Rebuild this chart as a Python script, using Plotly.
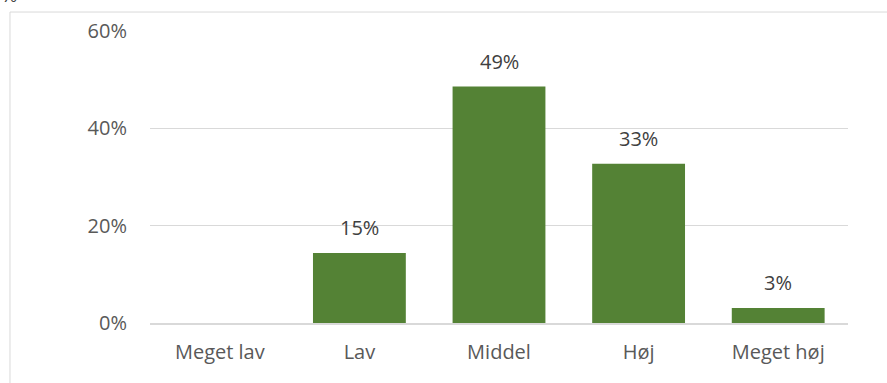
import plotly.graph_objects as go

categories = ["Meget lav", "Lav", "Middel", "Høj", "Meget høj"]
values = [0.0, 0.144, 0.486, 0.327, 0.031]
labels = ["", "15%", "49%", "33%", "3%"]
tick_vals = [0, 0.2, 0.4, 0.6]
tick_text = ["0%", "20%", "40%", "60%"]

FONT = "Open Sans"
GREEN = "#548235"
FS = 20

fig = go.Figure()
fig.add_trace(go.Bar(
    x=categories, y=values,
    marker=dict(color=GREEN, line=dict(width=0)),
    hoverinfo="skip",
))

for c, v, t in zip(categories, values, labels):
    if t:
        fig.add_annotation(x=c, y=v, text=t, showarrow=False, yanchor="middle",
                           yshift=25, font=dict(family=FONT, size=FS, color="#404040"))

# clipped axis title fragment at top-left
fig.add_annotation(xref="paper", yref="paper", x=-0.216, y=1.072, text="%",
                   showarrow=False, xanchor="left", yanchor="bottom",
                   font=dict(family=FONT, size=FS, color="#404040"))

# chart frame (extends beyond the visible image on right/bottom)
fig.add_shape(type="rect", xref="paper", yref="paper",
              x0=-0.2006, y0=-0.6, x1=1.3, y1=1.065,
              line=dict(color="#d9d9d9", width=1), layer="below")

fig.update_layout(
    width=887, height=383,
    margin=dict(l=150, r=39, t=31, b=60),
    paper_bgcolor="white", plot_bgcolor="white",
    bargap=0.335, showlegend=False,
    font=dict(family=FONT, size=FS, color="#595959"),
    xaxis=dict(showgrid=False, showline=True, linecolor="#d9d9d9", linewidth=1.5,
               ticks="", ticklabelstandoff=10, tickfont=dict(family=FONT, size=FS, color="#595959"),
               fixedrange=True),
    yaxis=dict(range=[0, 0.6], tickvals=tick_vals, ticktext=tick_text,
               showgrid=True, gridcolor="#d9d9d9", gridwidth=1, zeroline=False,
               showline=False, ticks="", ticklabelstandoff=22,
               tickfont=dict(family=FONT, size=FS, color="#595959"), fixedrange=True),
)

fig.write_html("out.html", config={"displayModeBar": False})
